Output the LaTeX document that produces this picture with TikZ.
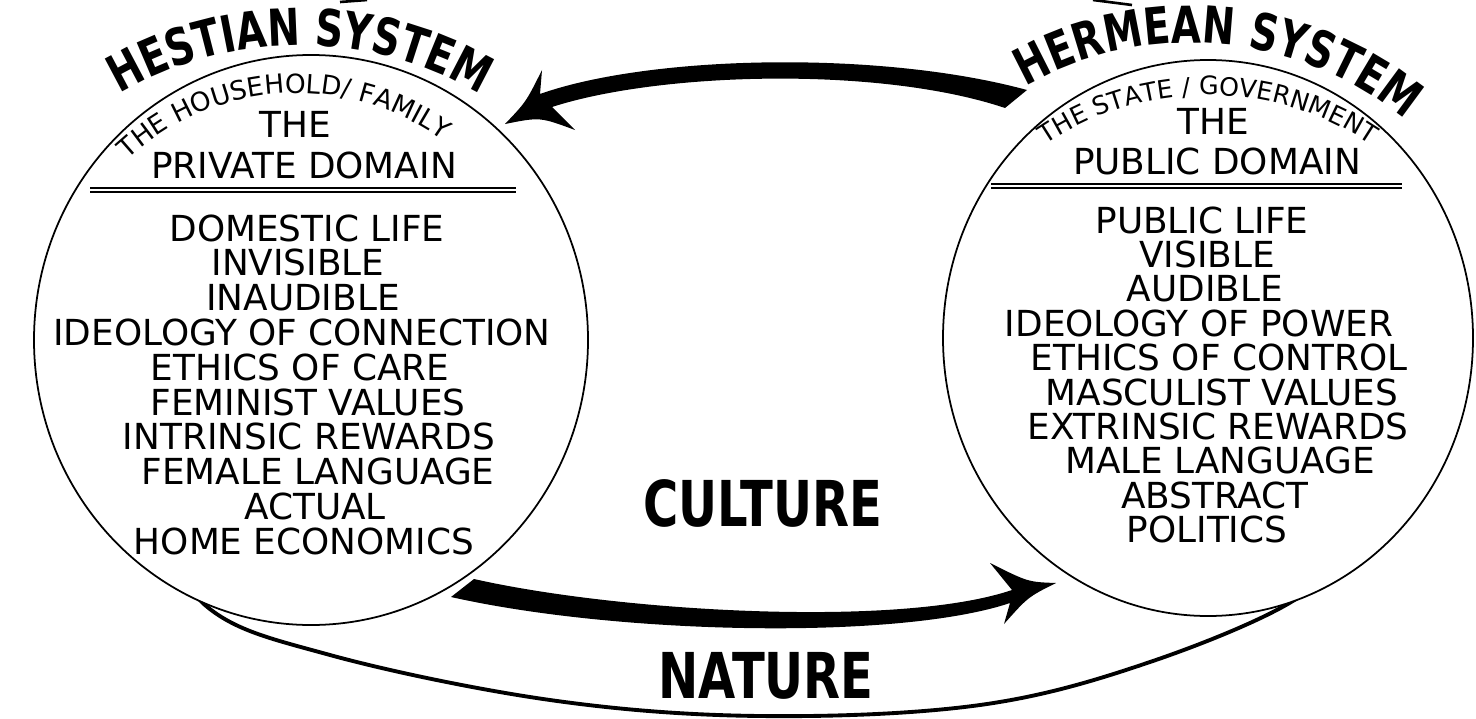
\documentclass[tikz,border=0pt]{standalone}
\usepackage{fontspec}
\setmainfont{DejaVu Sans}
\newfontfamily\headfont{DejaVu Sans}[FakeStretch=0.76]
\usetikzlibrary{decorations.text, shapes.geometric}

\tikzset{
	domainshape/.style = {draw, ellipse, fill=white, line width=1pt, inner sep=0pt},
	rowtext/.style = {font=\fontsize{20.4}{21}\selectfont, inner sep=0pt},
	bigword/.style = {font=\headfont\bfseries\fontsize{36}{37}\selectfont, inner sep=0pt},
	rulebar/.style = {double, double distance=0.7pt, line width=1.1pt},
	arctext/.style = {decorate, decoration={text along path, text align=center, text={#1}}}
}

\begin{document}
\begin{tikzpicture}[x=0.02cm, y=0.02cm]
	\pgfmathsetmacro{\pa}{277}
	\pgfmathsetmacro{\pb}{285}
	\pgfmathsetmacro{\qa}{265}
	\pgfmathsetmacro{\qb}{278}
	\useasboundingbox (0,0) rectangle (1476,718);
	% nature
	\draw [line width=2.2pt] plot [smooth, tension=0.6] coordinates {(150,218) (205,113) (330,63) (550,18) (760,2) (980,13) (1150,56) (1299,121) (1330,178)};
	\draw [line width=1.5pt] (340,716) -- (367,718) (1093,718) -- (1132,713);
	\node [domainshape, minimum width=2*\pa*0.02cm, minimum height=2*\pb*0.02cm] (hestia) at (311,378) {};
	\node [domainshape, minimum width=2*\qa*0.02cm, minimum height=2*\qb*0.02cm] (hermes) at (1208,380) {};
	% culture
	\fill (1027,628) coordinate (t1) .. controls (880,668) and (650,663) .. (540,624) -- (542,648) .. controls (526,616) .. (505,594) coordinate (ptip) .. controls (540,601) .. (575,588) -- (552,611) .. controls (660,646) and (880,652) .. (1005,610) coordinate (t2) -- cycle;
	\fill (474,139) coordinate (s1) .. controls (620,106) and (900,90) .. (1012,128) -- (990,155) .. controls (1028,136) .. (1056,135) coordinate (qtip) .. controls (1028,121) .. (1004,94) -- (1010,115) .. controls (900,78) and (620,83) .. (451,121) coordinate (s2) -- cycle;
	\path [arctext={|\headfont\bfseries\fontsize{29}{29}\selectfont|HESTIAN SYSTEM}] (300,318) ++ (132:355) arc [start angle=132, end angle=48, radius=355];
	\path [arctext={|\fontsize{15}{16}\selectfont|THE HOUSEHOLD/ FAMILY}] (297,377) ++ (140:248) arc [start angle=140, end angle=47, radius=248];
	\path [arctext={|\headfont\bfseries\fontsize{29}{29}\selectfont|HERMEAN SYSTEM}] (1191,340) ++ (130:335) arc [start angle=130, end angle=40, radius=335];
	\path [arctext={|\fontsize{14.4}{15}\selectfont|THE STATE / GOVERNMENT}] (1208,332) ++ (135:291) arc [start angle=135, end angle=45, radius=291];
	\node [rowtext] (privthe) at (295,594) {THE};
	\node [rowtext] (privname) at (304,553) {PRIVATE DOMAIN};
	\draw [rulebar] (90,528) -- (516,528);
	\node [rowtext] (publthe) at (1213,597) {THE};
	\node [rowtext] (publname) at (1217,557) {PUBLIC DOMAIN};
	\draw [rulebar] (991,532) -- (1402,532);
	\foreach \t/\x [count=\i from 0] in {DOMESTIC LIFE/307, INVISIBLE/298, INAUDIBLE/303, IDEOLOGY OF CONNECTION/302, ETHICS OF CARE/300, FEMINIST VALUES/308, INTRINSIC REWARDS/309, FEMALE LANGUAGE/318, ACTUAL/315, HOME ECONOMICS/304}
		\node [rowtext] (priv\i) at (\x, 490 - 34.8*\i) {\t};
	\foreach \t/\x [count=\i from 0] in {PUBLIC LIFE/1202, VISIBLE/1207, AUDIBLE/1205, IDEOLOGY OF POWER/1199, ETHICS OF CONTROL/1219, MASCULIST VALUES/1222, EXTRINSIC REWARDS/1218, MALE LANGUAGE/1220, ABSTRACT/1215, POLITICS/1207}
		\node [rowtext] (publ\i) at (\x, 498 - 34.4*\i) {\t};
	\node [bigword] (culture) at (763,215) {CULTURE};
	\node [bigword] (nature) at (766,42) {NATURE};
\end{tikzpicture}
\end{document}
